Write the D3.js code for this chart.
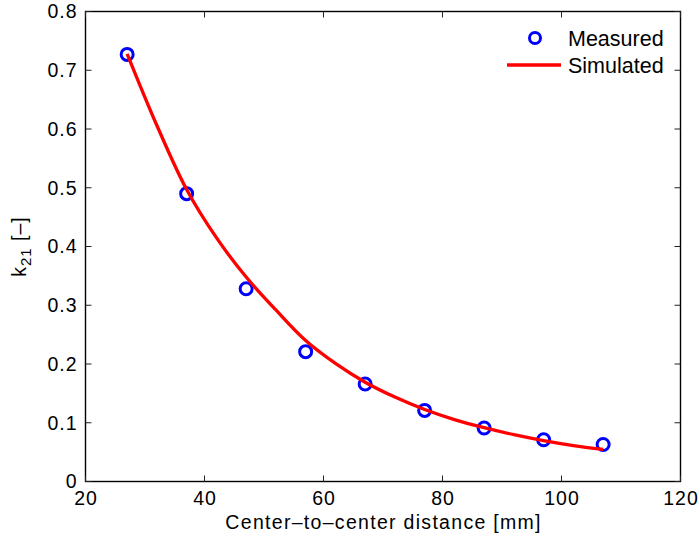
<!DOCTYPE html>
<html>
<head>
<meta charset="utf-8">
<script src="https://cdn.jsdelivr.net/npm/d3@7"></script>
<style>
  html, body { margin: 0; padding: 0; background: #fff; }
  svg { display: block; font-family: "Liberation Sans", Arial, Helvetica, sans-serif; }
</style>
</head>
<body>
<svg id="chart" width="700" height="539"></svg>
<script>
// Data
const measuredX = [27, 37, 47, 57, 67, 77, 87, 97, 107];
const measuredY = [0.727, 0.490, 0.328, 0.221, 0.166, 0.121, 0.091, 0.071, 0.063];
const simulatedX = [27, 32, 37, 42, 47, 52, 57, 62, 67, 72, 77, 82, 87, 92, 97, 102, 107];
const simulatedY = [0.728, 0.606, 0.497, 0.415, 0.348, 0.292, 0.240, 0.201, 0.169, 0.1437, 0.1225, 0.1054, 0.0916, 0.0797, 0.0696, 0.0611, 0.0545];
const xTicks = [20, 40, 60, 80, 100, 120];
const yTicks = [0, 0.1, 0.2, 0.3, 0.4, 0.5, 0.6, 0.7, 0.8];
const xLabel = "Center\u2013to\u2013center distance [mm]";
const legendLabels = ["Measured", "Simulated"];

const svg = d3.select("#chart");
const L = 85.5, R = 680.5, T = 11.5, B = 481.5;
const x = d3.scaleLinear().domain([20, 120]).range([L, R]);
const y = d3.scaleLinear().domain([0, 0.8]).range([B, T]);

const tickFont = 19.5, tickLS = 1;

// frame
svg.append("rect").attr("x", L).attr("y", T).attr("width", R - L).attr("height", B - T)
  .attr("fill", "none").attr("stroke", "#000").attr("stroke-width", 1.4);

// ticks (inside, all sides)
const tl = 6;
const g = svg.append("g").attr("stroke", "#222").attr("stroke-width", 1);
xTicks.forEach(t => {
  g.append("line").attr("x1", x(t)).attr("x2", x(t)).attr("y1", B).attr("y2", B - tl);
  g.append("line").attr("x1", x(t)).attr("x2", x(t)).attr("y1", T).attr("y2", T + tl);
});
yTicks.forEach(t => {
  g.append("line").attr("y1", y(t)).attr("y2", y(t)).attr("x1", L).attr("x2", L + tl);
  g.append("line").attr("y1", y(t)).attr("y2", y(t)).attr("x1", R).attr("x2", R - tl);
});

// tick labels
svg.append("g").selectAll("text").data(xTicks).join("text")
  .attr("x", d => x(d) + tickLS / 2).attr("y", 505)
  .attr("text-anchor", "middle").attr("font-size", tickFont)
  .attr("letter-spacing", tickLS).text(d => d);
svg.append("g").selectAll("text").data(yTicks).join("text")
  .attr("x", 77.5).attr("y", d => y(d) + 6.8)
  .attr("text-anchor", "end").attr("font-size", tickFont)
  .attr("letter-spacing", tickLS).text(d => d3.format("")(d));

// axis labels
svg.append("text").attr("x", (L + R) / 2 + 0.6).attr("y", 529)
  .attr("text-anchor", "middle").attr("font-size", 19.5)
  .attr("letter-spacing", 1.3).text(xLabel);

const yl = svg.append("text").attr("transform", `translate(26,${(T + B) / 2}) rotate(-90)`)
  .attr("text-anchor", "middle").attr("font-size", 19.5).attr("letter-spacing", 1);
yl.append("tspan").text("k");
yl.append("tspan").attr("font-size", 15).attr("dy", 5).text("21");
yl.append("tspan").attr("dy", -5).text(" [\u2013]");

// simulated line
const line = d3.line().x(d => x(d[0])).y(d => y(d[1])).curve(d3.curveCatmullRom);
const simData = simulatedX.map((v, i) => [v, simulatedY[i]]);

// measured circles
svg.append("g").selectAll("circle").data(measuredX.map((v, i) => [v, measuredY[i]])).join("circle")
  .attr("cx", d => x(d[0])).attr("cy", d => y(d[1])).attr("r", 6)
  .attr("fill", "none").attr("stroke", "#0000ff").attr("stroke-width", 3);

svg.append("path").datum(simData).attr("d", line)
  .attr("fill", "none").attr("stroke", "#ff0000").attr("stroke-width", 3.3);

// legend
const lg = svg.append("g");
lg.append("circle").attr("cx", 535).attr("cy", 38).attr("r", 5.5)
  .attr("fill", "none").attr("stroke", "#0000ff").attr("stroke-width", 3);
lg.append("line").attr("x1", 507).attr("x2", 561).attr("y1", 65).attr("y2", 65)
  .attr("stroke", "#ff0000").attr("stroke-width", 3.3);
lg.selectAll("text").data(legendLabels).join("text")
  .attr("x", 568).attr("y", (d, i) => 45.7 + i * 27)
  .attr("font-size", 21.5).text(d => d);
</script>
</body>
</html>
